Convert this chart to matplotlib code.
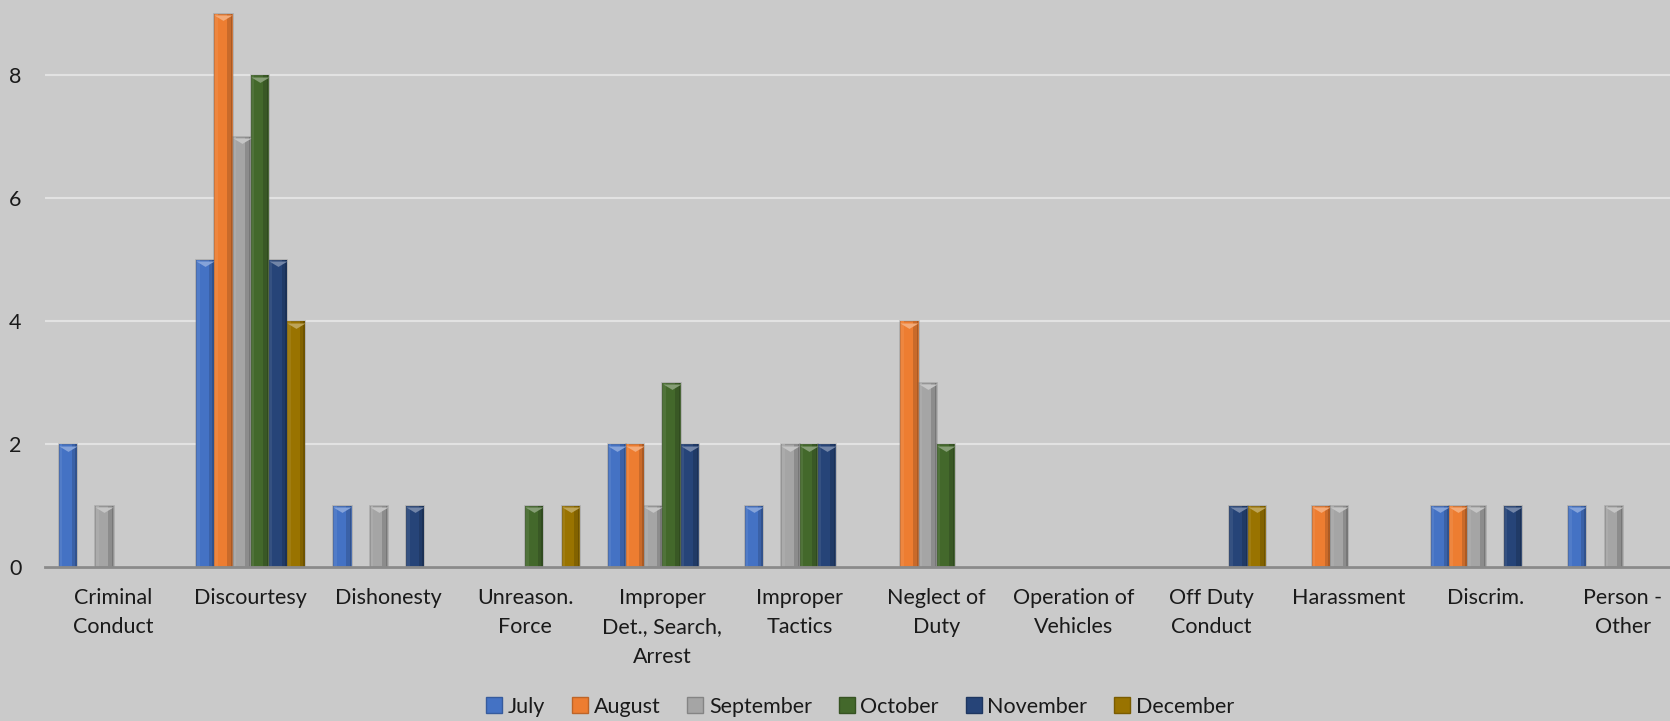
import numpy as np
import matplotlib
matplotlib.use("Agg")
import matplotlib.pyplot as plt
import matplotlib.transforms as mtransforms
from matplotlib.colors import to_rgb
from matplotlib.patches import Patch

plt.rcParams['font.family'] = ['Lato', 'DejaVu Sans']

categories = ["Criminal\nConduct", "Discourtesy", "Dishonesty", "Unreason.\nForce",
              "Improper\nDet., Search,\nArrest", "Improper\nTactics", "Neglect of\nDuty",
              "Operation of\nVehicles", "Off Duty\nConduct", "Harassment", "Discrim.",
              "Person -\nOther"]

months = ["July", "August", "September", "October", "November", "December"]

july = [2, 5, 1, 0, 2, 1, 0, 0, 0, 0, 1, 1]
august = [0, 9, 0, 0, 2, 0, 4, 0, 0, 1, 1, 0]
september = [1, 7, 1, 0, 1, 2, 3, 0, 0, 1, 1, 1]
october = [0, 8, 0, 1, 3, 2, 2, 0, 0, 0, 0, 0]
november = [0, 5, 1, 0, 2, 2, 0, 0, 1, 0, 1, 0]
december = [0, 4, 0, 1, 0, 0, 0, 0, 1, 0, 0, 0]

series = [july, august, september, october, november, december]
colors = ["#4472C4", "#ED7D31", "#A5A5A5", "#43682B", "#264478", "#997300"]

BG = "#CACACA"
TXT = "#1a1a1a"


def shade(c, f):
    r = np.array(to_rgb(c))
    if f >= 1:
        return tuple(r + (1 - r) * (f - 1))
    return tuple(r * f)


fig = plt.figure(figsize=(16.7, 7.21), dpi=100, facecolor=BG)
# plot area runs past the right edge, as in the reference crop
ax = fig.add_axes([45 / 1670, 154 / 721, 12 * 137.2 / 1670, 615 / 721])
ax.set_facecolor(BG)

x = np.arange(len(categories))
w = 0.1327
tri = mtransforms.offset_copy(ax.transData, fig=fig, x=0, y=-1.2, units='points')
chevron = [(-1, 0), (1, 0), (0, -0.6), (-1, 0)]

for k, (vals, c) in enumerate(zip(series, colors)):
    vals = np.array(vals, dtype=float)
    pos = x + (k - 2.5) * w
    m = vals > 0
    ax.bar(pos[m], vals[m], width=w, color=c, edgecolor=(0.4, 0.4, 0.4, 0.3),
           linewidth=1.2, zorder=3)
    # bevel: soft light left edge, darker right side
    ax.bar(pos[m] - w * 0.38, vals[m], width=w * 0.14, color=shade(c, 1.07),
           linewidth=0, zorder=4)
    ax.bar(pos[m] + w * 0.3, vals[m], width=w * 0.22, color=shade(c, 0.85),
           linewidth=0, zorder=4)
    ax.bar(pos[m] + w * 0.43, vals[m], width=w * 0.08, color=shade(c, 0.72),
           linewidth=0, zorder=4)
    ax.plot(pos[m], vals[m], linestyle='none', marker=chevron, markersize=13,
            color=shade(c, 1.35), markeredgewidth=0, transform=tri, zorder=5)

ax.set_xlim(-0.5, len(categories) - 0.5)
ax.set_ylim(0, 10)
ax.set_yticks([0, 2, 4, 6, 8])
ax.set_xticks(x)
ax.set_xticklabels(categories, fontsize=15.5, color=TXT, linespacing=1.6)
ax.tick_params(axis='x', length=0, pad=15)
ax.tick_params(axis='y', length=0, pad=17, labelsize=15.5, labelcolor=TXT)
ax.grid(axis='y', color="#E2E2E2", linewidth=1.5, zorder=0)
ax.set_axisbelow(True)
for s in ["top", "right", "left"]:
    ax.spines[s].set_visible(False)
ax.spines["bottom"].set_color("#8a8a8a")
ax.spines["bottom"].set_linewidth(2)
ax.spines["bottom"].set_zorder(6)

handles = [Patch(facecolor=c, edgecolor=shade(c, 0.8)) for c in colors]
fig.legend(handles, months, loc='center', bbox_to_anchor=(0.515, 0.02), ncol=6,
           frameon=False, fontsize=15.5, handlelength=0.75, handleheight=0.8,
           handletextpad=0.25, columnspacing=1.25, labelcolor=TXT)

fig.savefig("out.png", dpi=100, facecolor=BG)
